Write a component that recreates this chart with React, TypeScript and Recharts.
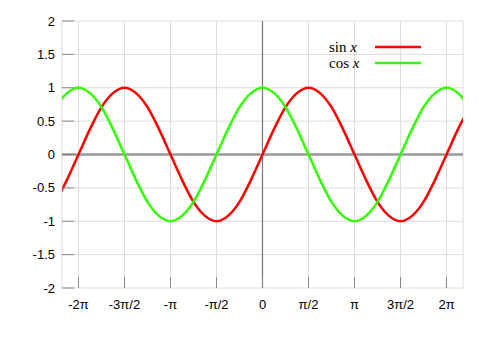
import { LineChart, Line, XAxis, YAxis, CartesianGrid, ReferenceLine, Legend } from "recharts"

// x positions in units of pi (step pi/8)
const xs = [
  -2.25, -2.125, -2, -1.875, -1.75, -1.625, -1.5, -1.375, -1.25, -1.125, -1, -0.875, -0.75, -0.625, -0.5, -0.375,
  -0.25, -0.125, 0, 0.125, 0.25, 0.375, 0.5, 0.625, 0.75, 0.875, 1, 1.125, 1.25, 1.375, 1.5, 1.625, 1.75, 1.875, 2,
  2.125, 2.25,
]
const sinValues = [
  -0.71, -0.38, 0, 0.38, 0.71, 0.92, 1, 0.92, 0.71, 0.38, 0, -0.38, -0.71, -0.92, -1, -0.92, -0.71, -0.38, 0, 0.38,
  0.71, 0.92, 1, 0.92, 0.71, 0.38, 0, -0.38, -0.71, -0.92, -1, -0.92, -0.71, -0.38, 0, 0.38, 0.71,
]
const cosValues = [
  0.71, 0.92, 1, 0.92, 0.71, 0.38, 0, -0.38, -0.71, -0.92, -1, -0.92, -0.71, -0.38, 0, 0.38, 0.71, 0.92, 1, 0.92,
  0.71, 0.38, 0, -0.38, -0.71, -0.92, -1, -0.92, -0.71, -0.38, 0, 0.38, 0.71, 0.92, 1, 0.92, 0.71,
]
const xTicks = [-2, -1.5, -1, -0.5, 0, 0.5, 1, 1.5, 2]
const xTickLabels = ["-2π", "-3π/2", "-π", "-π/2", "0", "π/2", "π", "3π/2", "2π"]
const yTicks = [-2, -1.5, -1, -0.5, 0, 0.5, 1, 1.5, 2]
const seriesNames = ["sin", "cos"]

const data = xs.map((x, i) => ({ x, sin: sinValues[i], cos: cosValues[i] }))

const tickFont = { fontFamily: "Liberation Sans", fontSize: 13, fill: "#000" }

function LegendContent({ payload }: any) {
  const items = [...(payload || [])].sort((a: any, b: any) => seriesNames.indexOf(a.value) - seriesNames.indexOf(b.value))
  return (
    <div style={{ fontFamily: "Liberation Serif", fontSize: 15, color: "#000" }}>
      {items.map((p: any) => (
        <div key={p.value} style={{ display: "flex", alignItems: "center", height: 16 }}>
          <span style={{ width: 46, whiteSpace: "nowrap" }}>
            {p.value} <i>x</i>
          </span>
          <svg width={46} height={4} style={{ display: "block" }}>
            <line x1={0} x2={46} y1={2} y2={2} stroke={p.color} strokeWidth={2.5} />
          </svg>
        </div>
      ))}
    </div>
  )
}

export default function App() {
  return (
    <div style={{ position: "absolute", left: 0, top: 0, background: "#fff" }}>
      <LineChart width={494} height={349} data={data} margin={{ top: 20, right: 30, left: 2, bottom: 31 }}>
        <CartesianGrid xAxisId="b" yAxisId="l" stroke="#dcdcdc" strokeWidth={1} />
        <XAxis
          xAxisId="b"
          dataKey="x"
          type="number"
          domain={[-2.179, 2.179]}
          allowDataOverflow
          ticks={xTicks}
          tickFormatter={(v: number) => xTickLabels[xTicks.indexOf(v)]}
          interval={0}
          height={30}
          axisLine={false}
          tickSize={-11}
          tickMargin={23}
          tickLine={{ stroke: "#888" }}
          tick={tickFont}
        />
        <XAxis
          xAxisId="t"
          orientation="top"
          dataKey="x"
          type="number"
          domain={[-2.179, 2.179]}
          allowDataOverflow
          ticks={xTicks}
          interval={0}
          height={1}
          axisLine={false}
          tickSize={-11}
          tickLine={{ stroke: "#888" }}
          tick={false}
        />
        <YAxis
          yAxisId="l"
          type="number"
          domain={[-2, 2]}
          ticks={yTicks}
          interval={0}
          width={60}
          axisLine={false}
          tickSize={-12}
          tickMargin={19}
          tickLine={{ stroke: "#888" }}
          tick={tickFont}
        />
        <YAxis
          yAxisId="r"
          orientation="right"
          type="number"
          domain={[-2, 2]}
          ticks={yTicks}
          interval={0}
          width={1}
          axisLine={false}
          tickSize={-12}
          tickLine={{ stroke: "#888" }}
          tick={false}
        />
        <ReferenceLine xAxisId="b" yAxisId="l" x={0} stroke="#777" strokeWidth={1.2} />
        <ReferenceLine xAxisId="b" yAxisId="l" y={0} stroke="#999" strokeWidth={2.5} />
        <Line
          xAxisId="b"
          yAxisId="l"
          dataKey="sin"
          name="sin"
          type="monotone"
          stroke="#ff0000"
          strokeWidth={2.5}
          dot={false}
          isAnimationActive={false}
        />
        <Line
          xAxisId="b"
          yAxisId="l"
          dataKey="cos"
          name="cos"
          type="monotone"
          stroke="#33ff00"
          strokeWidth={2.5}
          dot={false}
          isAnimationActive={false}
        />
        <Legend
          layout="vertical"
          align="center"
          verticalAlign="middle"
          wrapperStyle={{ left: 329, top: 39, width: 100 }}
          content={LegendContent}
        />
      </LineChart>
    </div>
  )
}
